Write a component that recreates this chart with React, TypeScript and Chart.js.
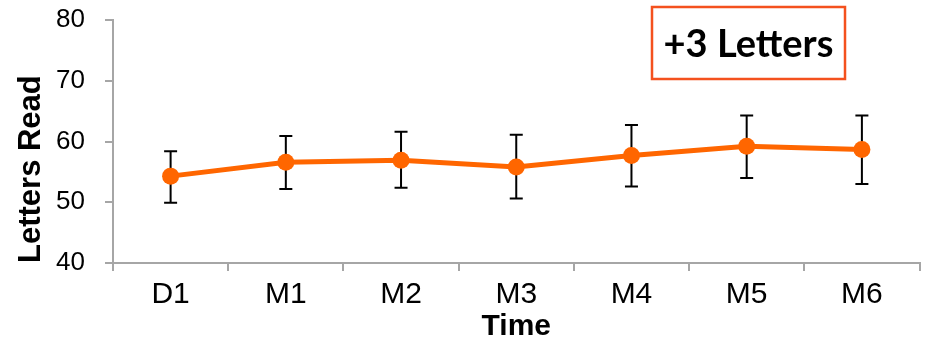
import React, { useEffect, useRef } from "react";
import { Chart, registerables } from "chart.js";

Chart.register(...registerables);

const categories = ["D1", "M1", "M2", "M3", "M4", "M5", "M6"];
const meanValues = [54.3, 56.6, 56.9, 55.8, 57.7, 59.2, 58.7];
const errorHigh = [58.4, 60.9, 61.6, 61.1, 62.7, 64.3, 64.3];
const errorLow = [49.9, 52.2, 52.4, 50.6, 52.6, 54.0, 53.0];
const yTicks = [40, 50, 60, 70, 80];
const annotationText = "+3 Letters";
const yTitle = "Letters Read";
const xTitle = "Time";

const errorBarPlugin = {
  id: "errorBars",
  beforeDatasetsDraw(chart: any) {
    const { ctx, scales } = chart;
    const x = scales.x;
    const y = scales.y;
    ctx.save();
    ctx.strokeStyle = "#000";
    ctx.lineWidth = 2;
    categories.forEach((_, i) => {
      const px = x.getPixelForValue(i);
      const top = y.getPixelForValue(errorHigh[i]);
      const bot = y.getPixelForValue(errorLow[i]);
      ctx.beginPath();
      ctx.moveTo(px, top);
      ctx.lineTo(px, bot);
      ctx.moveTo(px - 6.5, top);
      ctx.lineTo(px + 6.5, top);
      ctx.moveTo(px - 6.5, bot);
      ctx.lineTo(px + 6.5, bot);
      ctx.stroke();
    });
    ctx.restore();
  },
};

const annotationPlugin = {
  id: "annotationBox",
  afterDraw(chart: any) {
    const { ctx } = chart;
    ctx.save();
    ctx.fillStyle = "#fff";
    ctx.fillRect(652, 7, 193, 72);
    ctx.strokeStyle = "#F4511E";
    ctx.lineWidth = 2.5;
    ctx.strokeRect(652, 7, 193, 72);
    ctx.fillStyle = "#000";
    ctx.font = "bold 38px Lato, 'Open Sans', sans-serif";
    ctx.textAlign = "center";
    ctx.textBaseline = "middle";
    ctx.fillText(annotationText, 748.5, 45);
    ctx.restore();
  },
};

export default function App() {
  const canvasRef = useRef<HTMLCanvasElement | null>(null);

  useEffect(() => {
    if (!canvasRef.current) return;
    const chart = new Chart(canvasRef.current, {
      type: "line",
      data: {
        labels: categories,
        datasets: [
          {
            data: meanValues,
            borderColor: "#FF6600",
            backgroundColor: "#FF6600",
            borderWidth: 5,
            pointRadius: 8.5,
            pointHoverRadius: 8.5,
            pointBackgroundColor: "#FF6600",
            pointBorderWidth: 0,
            tension: 0,
          },
        ],
      },
      options: {
        animation: false,
        responsive: true,
        maintainAspectRatio: false,
        layout: { padding: { top: 20, right: 7, left: 0, bottom: 0 } },
        plugins: {
          legend: { display: false },
          tooltip: { enabled: false },
        },
        scales: {
          x: {
            type: "category",
            offset: true,
            afterFit(scale: any) {
              scale.height = 77;
            },
            grid: {
              display: true,
              offset: true,
              drawOnChartArea: false,
              drawTicks: true,
              tickLength: 8,
              color: "#a6a6a6",
              lineWidth: 2,
            },
            border: { display: true, color: "#a6a6a6", width: 2 },
            ticks: {
              color: "#000",
              padding: 6,
              font: { family: "'Liberation Sans', Arial, sans-serif", size: 30 },
              maxRotation: 0,
            },
            title: {
              display: true,
              text: xTitle,
              color: "#000",
              padding: { top: 0, bottom: 0 },
              font: { family: "'Liberation Sans', Arial, sans-serif", size: 30, weight: "bold", lineHeight: 0.9 },
            },
          },
          y: {
            min: 40,
            max: 80,
            afterFit(scale: any) {
              scale.width = 113;
              scale.paddingTop = 0;
              scale.paddingBottom = 0;
            },
            afterBuildTicks(scale: any) {
              scale.ticks = yTicks.map((v) => ({ value: v }));
            },
            grid: {
              display: true,
              drawOnChartArea: false,
              drawTicks: true,
              tickLength: 8,
              color: "#a6a6a6",
              lineWidth: 2,
            },
            border: { display: true, color: "#a6a6a6", width: 2 },
            ticks: {
              color: "#000",
              padding: 20,
              font: { family: "'Liberation Sans', Arial, sans-serif", size: 26 },
            },
            title: {
              display: true,
              text: yTitle,
              align: "start",
              color: "#000",
              padding: { top: 16, bottom: 0 },
              font: { family: "'Liberation Sans', Arial, sans-serif", size: 31, weight: "bold", lineHeight: 1 },
            },
          },
        },
      },
      plugins: [errorBarPlugin, annotationPlugin],
    } as any);
    return () => chart.destroy();
  }, []);

  return (
    <div style={{ position: "absolute", left: 0, top: 0, width: 928, height: 340 }}>
      <canvas ref={canvasRef} />
    </div>
  );
}
